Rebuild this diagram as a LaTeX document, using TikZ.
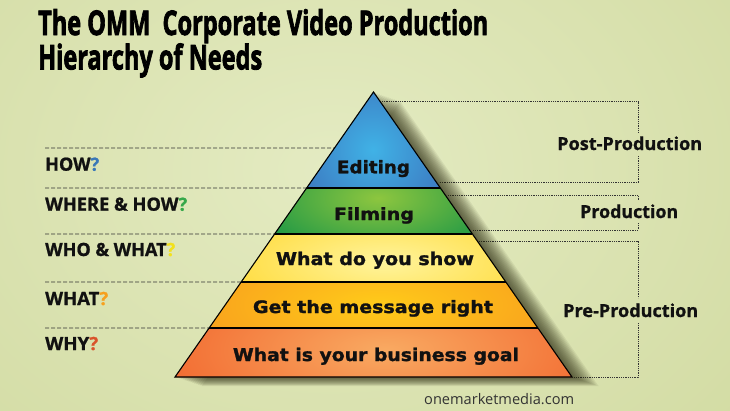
\documentclass[tikz,border=0pt]{standalone}
\usepackage{graphicx}
\usepackage{fontspec}
\setmainfont{Open Sans}[BoldFeatures={FakeBold=1}]
\newfontfamily\pyrfont{DejaVu Sans}[BoldFeatures={FakeBold=1.4}]
\newfontfamily\titlefont{Open Sans}[BoldFeatures={FakeBold=2.6}]
\newfontfamily\webfont{Open Sans}
\usetikzlibrary{calc}
\definecolor{bgout}{HTML}{D2DBA2}
\definecolor{bgin}{HTML}{E4EBC2}
\definecolor{txtblack}{HTML}{111111}
\definecolor{lineg}{HTML}{333333}
\definecolor{shadowc}{HTML}{2A2A10}
\definecolor{edOut}{HTML}{3B63B2}
\definecolor{edIn}{HTML}{40B2E6}
\definecolor{fiOut}{HTML}{0F9146}
\definecolor{fiIn}{HTML}{8DC63F}
\definecolor{yeOut}{HTML}{FFD21A}
\definecolor{yeIn}{HTML}{FFF49C}
\definecolor{orOut}{HTML}{F7961D}
\definecolor{orIn}{HTML}{FFCB1A}
\definecolor{reOut}{HTML}{F05A24}
\definecolor{reIn}{HTML}{F9AA62}
\definecolor{qblue}{HTML}{3A78B8}
\definecolor{qgreen}{HTML}{36A84A}
\definecolor{qyellow}{HTML}{F2E11C}
\definecolor{qorange}{HTML}{F6A01E}
\definecolor{qred}{HTML}{D9532B}
\definecolor{webgray}{HTML}{333333}
\newcommand\fitw[2]{\resizebox{#1}{!}{#2}}
\newcommand\fitwh[3]{\resizebox{#1}{#2}{#3}}
\begin{document}
\begin{tikzpicture}[x=1pt,y=-1pt,
  lab/.style={inner sep=0pt, anchor=base west, text=txtblack, font=\bfseries},
  pyr/.style={inner sep=0pt, anchor=base, text=txtblack, font=\pyrfont\bfseries},
  dashln/.style={draw=lineg, line width=0.8pt, dash pattern=on 4pt off 2pt},
  dotln/.style={draw=lineg, line width=0.9pt, dash pattern=on 0.9pt off 0.9pt},
  bandline/.style={draw=black, line width=1.1pt, line join=miter}]
% background
\useasboundingbox (0,0) rectangle (730,410);
\fill[bgout] (0,0) rectangle (730,410);
\begin{scope}
  \clip (0,0) rectangle (730,410);
  \shade[inner color=bgin, outer color=bgout] (330,170) ellipse (560 and 420);
\end{scope}
% pyramid geometry
\coordinate (A) at (373.5,92);
\coordinate (BL) at (175,377);
\coordinate (BR) at (572,377);
\coordinate (E0) at ($(A)!0.1965!(BL)$);
\coordinate (L1) at ($(A)!0.3368!(BL)$);
\coordinate (R1) at ($(A)!0.3368!(BR)$);
\coordinate (L2) at ($(A)!0.4982!(BL)$);
\coordinate (R2) at ($(A)!0.4982!(BR)$);
\coordinate (L3) at ($(A)!0.6667!(BL)$);
\coordinate (R3) at ($(A)!0.6667!(BR)$);
\coordinate (L4) at ($(A)!0.8281!(BL)$);
\coordinate (R4) at ($(A)!0.8281!(BR)$);
% left dashed lines
\coordinate (d0) at (45,148);
\coordinate (d1) at (45,188);
\coordinate (d2) at (45,234);
\coordinate (d3) at (45,282);
\coordinate (d4) at (45,328);
\draw[dashln] (d0) -- (E0);
\draw[dashln] (d1) -- (L1);
\draw[dashln] (d2) -- (L2);
\draw[dashln] (d3) -- (L3);
\draw[dashln] (d4) -- (L4);
% right dotted brackets
\coordinate (po1) at (382,101.5);
\coordinate (po2) at (638,101.5);
\coordinate (po3) at (638,132);
\coordinate (po4) at (638,156);
\coordinate (po5) at (638,182);
\coordinate (po6) at (439,182);
\coordinate (pr1) at (448,195);
\coordinate (pr2) at (638,195);
\coordinate (pr3) at (638,200.5);
\coordinate (pr4) at (638,223);
\coordinate (pr5) at (638,230);
\coordinate (pr6) at (473,230);
\coordinate (pe1) at (479,241);
\coordinate (pe2) at (638,241);
\coordinate (pe3) at (638,298);
\coordinate (pe4) at (638,323);
\coordinate (pe5) at (638,377);
\coordinate (pe6) at (574,377);
\draw[dotln] (po1) -- (po2) -- (po3);
\draw[dotln] (po4) -- (po5) -- (po6);
\draw[dotln] (pr1) -- (pr2) -- (pr3);
\draw[dotln] (pr4) -- (pr5) -- (pr6);
\draw[dotln] (pe1) -- (pe2) -- (pe3);
\draw[dotln] (pe4) -- (pe5) -- (pe6);
% shadow
\foreach \i in {1,...,14}{
  \fill[shadowc, opacity=0.075] ($(A)+(\i*1.9,\i*0.65)$) -- ($(BL)+(\i*1.9,\i*0.65)$) -- ($(BR)+(\i*1.9,\i*0.65)$) -- cycle;
}
% bands
\begin{scope}
  \clip (A) -- (L1) -- (R1) -- cycle;
  \fill[edOut] (150,80) rectangle (600,200);
  \shade[inner color=edIn, outer color=edOut] (373,150) ellipse (110 and 110);
\end{scope}
\begin{scope}
  \clip (L1) -- (L2) -- (R2) -- (R1) -- cycle;
  \fill[fiOut] (150,180) rectangle (600,240);
  \shade[inner color=fiIn, outer color=fiOut] (378,198) ellipse (150 and 70);
\end{scope}
\begin{scope}
  \clip (L2) -- (L3) -- (R3) -- (R2) -- cycle;
  \fill[yeOut] (150,230) rectangle (600,290);
  \shade[inner color=yeIn, outer color=yeOut] (385,262) ellipse (230 and 80);
\end{scope}
\begin{scope}
  \clip (L3) -- (L4) -- (R4) -- (R3) -- cycle;
  \fill[orOut] (150,280) rectangle (600,335);
  \shade[inner color=orIn, outer color=orOut] (378,305) ellipse (240 and 80);
\end{scope}
\begin{scope}
  \clip (L4) -- (BL) -- (BR) -- (R4) -- cycle;
  \fill[reOut] (150,320) rectangle (600,385);
  \shade[inner color=reIn, outer color=reOut] (385,350) ellipse (290 and 110);
\end{scope}
\draw[bandline] (L1) -- (R1);
\draw[bandline] (L2) -- (R2);
\draw[bandline] (L3) -- (R3);
\draw[bandline] (L4) -- (R4);
\draw[bandline] (A) -- (BL) -- (BR) -- cycle;
% pyramid texts
\node[pyr] (t1) at (373.5,173.3) {\fitwh{73pt}{13.3pt}{Editing}};
\node[pyr] (t2) at (374,220) {\fitwh{80pt}{12.8pt}{Filming}};
\node[pyr] (t3) at (375,265) {\fitwh{198pt}{13.3pt}{What do you show}};
\node[pyr] (t4) at (373,313) {\fitwh{240pt}{13pt}{Get the message right}};
\node[pyr] (t5) at (376,361) {\fitwh{286pt}{13.3pt}{What is your business goal}};
% left labels
\node[lab] (q1) at (45,170.7) {\fitwh{54pt}{13.2pt}{HOW\textcolor{qblue}{?}}};
\node[lab] (q2) at (45,210.7) {\fitwh{142pt}{13.2pt}{WHERE \& HOW\textcolor{qgreen}{?}}};
\node[lab] (q3) at (45,256) {\fitwh{130pt}{13.2pt}{WHO \& WHAT\textcolor{qyellow}{?}}};
\node[lab] (q4) at (45,305) {\fitwh{63pt}{13.2pt}{WHAT\textcolor{qorange}{?}}};
\node[lab] (q5) at (45,350) {\fitwh{53pt}{13.2pt}{WHY\textcolor{qred}{?}}};
% right labels
\node[lab] (post) at (557,150) {\fitwh{145pt}{13.6pt}{Post-Production}};
\node[lab] (prod) at (580,218) {\fitwh{98pt}{13.6pt}{Production}};
\node[lab] (pre) at (563,317) {\fitwh{135pt}{13.6pt}{Pre-Production}};
% website
\node[inner sep=0pt, anchor=base west, text=webgray] (web) at (424,404) {\webfont\fitw{150pt}{onemarketmedia.com}};
% title
\node[inner sep=0pt, anchor=base west, text=black] (title) at (38,35)
  {\resizebox{450pt}{\height}{\titlefont\fontsize{34}{28}\selectfont\bfseries\begin{tabular}[t]{@{}l@{}}The OMM\ \ Corporate Video Production\\Hierarchy of Needs\end{tabular}}};
\end{tikzpicture}
\end{document}
